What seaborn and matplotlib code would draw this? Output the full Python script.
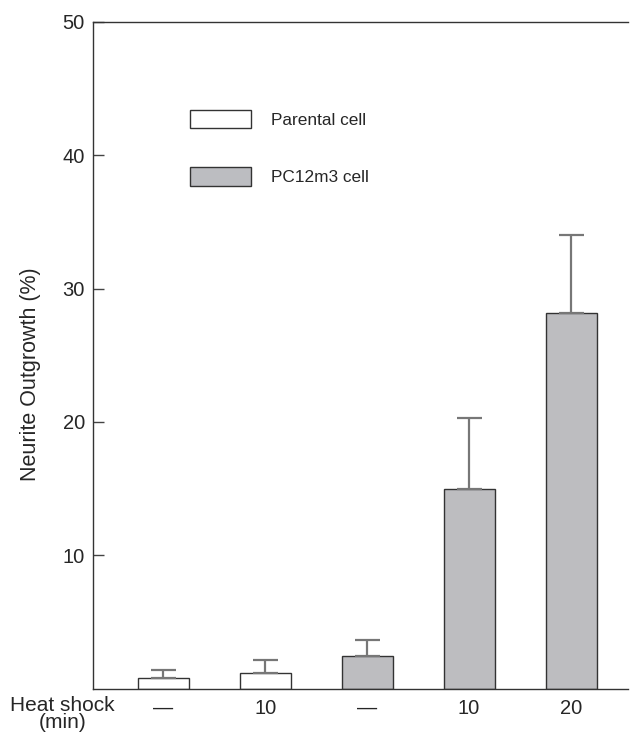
import pandas as pd
import matplotlib
matplotlib.use("Agg")
import matplotlib.pyplot as plt
import seaborn as sns
from matplotlib.patches import Patch

# data
conditions = ["a", "b", "c", "d", "e"]
heat_labels = ["\u2014", "10", "\u2014", "10", "20"]
cells = ["Parental cell", "Parental cell", "PC12m3 cell", "PC12m3 cell", "PC12m3 cell"]
outgrowth = [0.8, 1.2, 2.5, 15.0, 28.2]
sem = [0.6, 1.0, 1.2, 5.3, 5.8]

df = pd.DataFrame({"cond": conditions, "cell": cells, "val": outgrowth})
colors = {"Parental cell": "white", "PC12m3 cell": "#bcbdc1"}

sns.set_style("ticks")
plt.rcParams["font.family"] = ["Liberation Sans", "DejaVu Sans"]

fig = plt.figure(figsize=(6.3, 7.44), dpi=100)
ax = fig.add_axes([0.148, 0.074, 0.849, 0.897])

sns.barplot(data=df, x="cond", y="val", hue="cell", palette=colors, dodge=False,
            order=conditions, width=0.5, edgecolor="#333333", linewidth=1.0,
            errorbar=None, legend=False, ax=ax)

# upper-only error bars
xs = list(range(len(conditions)))
ax.errorbar(xs, outgrowth, yerr=[[0] * len(sem), sem], fmt="none", ecolor="#777777",
            elinewidth=1.6, capsize=9, capthick=1.6, zorder=1)

ax.set_xlim(-0.686, 4.56)
ax.set_ylim(0, 50)
ax.set_yticks([10, 20, 30, 40, 50])
ax.set_yticklabels(["10", "20", "30", "40", "50"], fontsize=14.5)
ax.set_xticks(xs)
ax.set_xticklabels(heat_labels, fontsize=14.5)
ax.tick_params(axis="x", length=0, pad=7)
ax.tick_params(axis="y", direction="in", length=8, width=1, color="#444444", pad=6)
ax.set_xlabel("")
ax.set_ylabel("Neurite Outgrowth (%)", fontsize=15.5)
ax.yaxis.set_label_coords(-0.098, 0.472)

for s in ["left", "top", "bottom"]:
    ax.spines[s].set_color("#333333")
    ax.spines[s].set_linewidth(1.0)
ax.spines["right"].set_visible(False)

ax.text(-0.057, -0.038, "Heat shock\n(min)", transform=ax.transAxes, ha="center",
        va="center", fontsize=15, linespacing=0.85)

handles = [Patch(facecolor=colors[c], edgecolor="#333333", linewidth=1.0)
           for c in ["Parental cell", "PC12m3 cell"]]
ax.legend(handles, ["Parental cell", "PC12m3 cell"], loc="upper left",
          bbox_to_anchor=(0.181, 0.868), frameon=False, fontsize=12.4,
          handlelength=3.55, handleheight=1.25, labelspacing=2.3,
          handletextpad=1.16, borderpad=0, borderaxespad=0)

fig.savefig("out.png", dpi=100)
